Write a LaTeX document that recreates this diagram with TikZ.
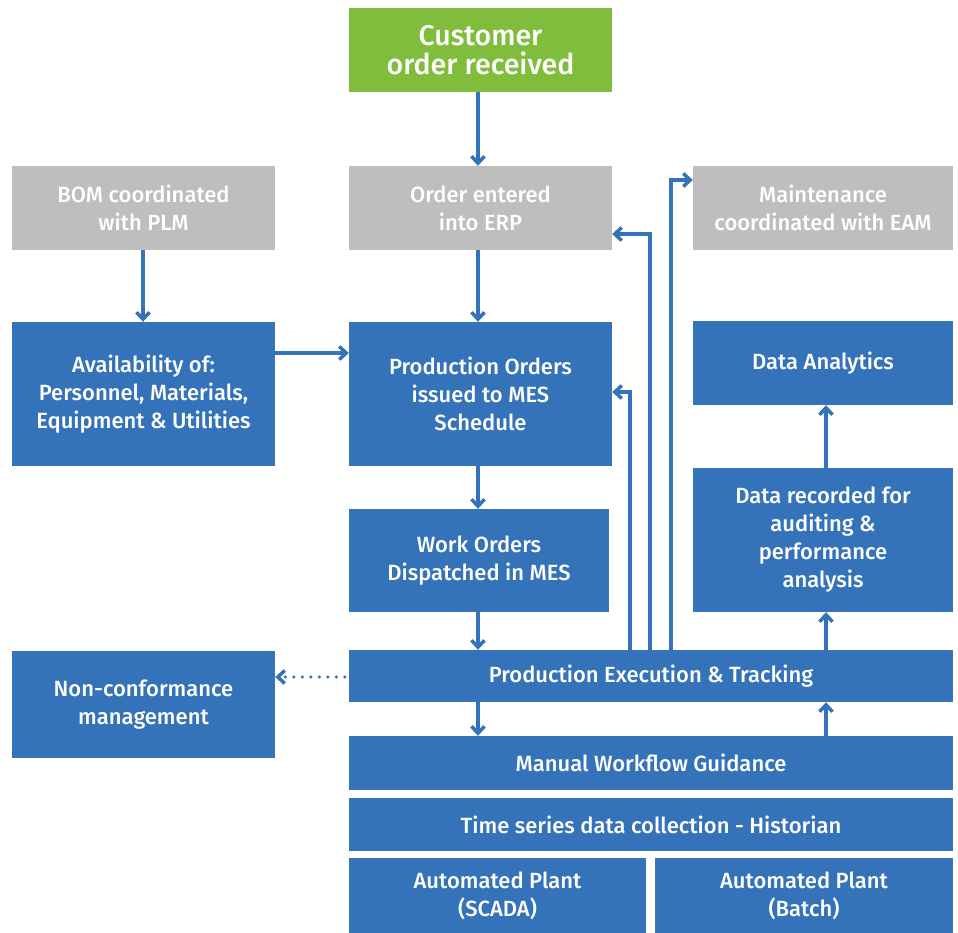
\documentclass[tikz,border=0pt]{standalone}
\usepackage{fontspec}
\setmainfont{Fira Sans}[UprightFont=* Medium]
\usetikzlibrary{arrows.meta}
\definecolor{geblue}{HTML}{3473BA}
\definecolor{gegray}{HTML}{BEBEBF}
\definecolor{gegreen}{HTML}{80BD3C}
\begin{document}
\begin{tikzpicture}[x=1pt,y=-1pt,
  box/.style={fill=geblue,text=white,align=center,inner sep=0pt,font=\fontsize{22}{28}\selectfont},
  graybox/.style={box,fill=gegray},
  greenbox/.style={box,fill=gegreen,font=\fontsize{28.5}{29}\selectfont},
  conn/.style={draw=geblue,line width=3.5pt,-{Straight Barb[length=7pt,width=13pt,line width=3.5pt]}},
  dotconn/.style={conn,line cap=round,dash pattern=on 0pt off 8.5pt}]
\useasboundingbox (0,0) rectangle (958,933);
\node[greenbox,minimum width=263,minimum height=84] (cust) at (480.5,50) {Customer\\order received};
\node[graybox,minimum width=263,minimum height=84] (erp) at (480.5,208) {Order entered\\into ERP};
\node[graybox,minimum width=263,minimum height=84] (bom) at (143.5,208) {BOM coordinated\\with PLM};
\node[graybox,minimum width=260,minimum height=84] (eam) at (823,208) {Maintenance\\coordinated with EAM};
\node[box,minimum width=263,minimum height=144] (avail) at (143.5,394) {Availability of:\\Personnel, Materials,\\Equipment \& Utilities};
\node[box,minimum width=263,minimum height=144] (po) at (480.5,394) {Production Orders\\issued to MES\\Schedule};
\node[box,minimum width=260,minimum height=84] (da) at (823,363) {Data Analytics};
\node[box,minimum width=260,minimum height=144] (dr) at (823,540) {Data recorded for\\auditing \&\\performance\\analysis};
\node[box,minimum width=260,minimum height=103] (wo) at (479,560.5) {Work Orders\\Dispatched in MES};
\node[box,minimum width=263,minimum height=107] (nc) at (143.5,704.5) {Non-conformance\\management};
\node[box,minimum width=604,minimum height=52] (pe) at (651,676) {Production Execution \& Tracking};
\node[box,minimum width=604,minimum height=54] (mw) at (651,763) {Manual Workflow Guidance};
\node[box,minimum width=604,minimum height=53] (ts) at (651,824.5) {Time series data collection - Historian};
\node[box,minimum width=297,minimum height=75] (scada) at (497.5,895.5) {Automated Plant\\(SCADA)};
\node[box,minimum width=298,minimum height=75] (batch) at (804,895.5) {Automated Plant\\(Batch)};
% connectors
\draw[conn] (cust.south -| 478,0) -- (erp.north -| 478,0);
\draw[conn] (erp.south -| 478,0) -- (po.north -| 478,0);
\draw[conn] (bom.south -| 143,0) -- (avail.north -| 143,0);
\draw[conn] (avail.east |- 0,353) -- (po.west |- 0,353);
\draw[conn] (po.south -| 478,0) -- (wo.north -| 478,0);
\draw[conn] (wo.south -| 478,0) -- (pe.north -| 478,0);
\draw[conn] (pe.south -| 478,0) -- (mw.north -| 478,0);
\draw[conn] (mw.north -| 826,0) -- (pe.south -| 826,0);
\draw[conn] (pe.north -| 826,0) -- (dr.south -| 826,0);
\draw[conn] (dr.north -| 826,0) -- (da.south -| 826,0);
\draw[conn] (pe.north -| 630,0) -- (630,392) -- (po.east |- 0,392);
\draw[conn] (pe.north -| 650,0) -- (650,234) -- (erp.east |- 0,234);
\draw[conn] (pe.north -| 671,0) -- (671,180) -- (eam.west |- 0,180);
\draw[dotconn] (pe.west |- 0,677) ++(-4,0) -- (nc.east |- 0,677);
\end{tikzpicture}
\end{document}
